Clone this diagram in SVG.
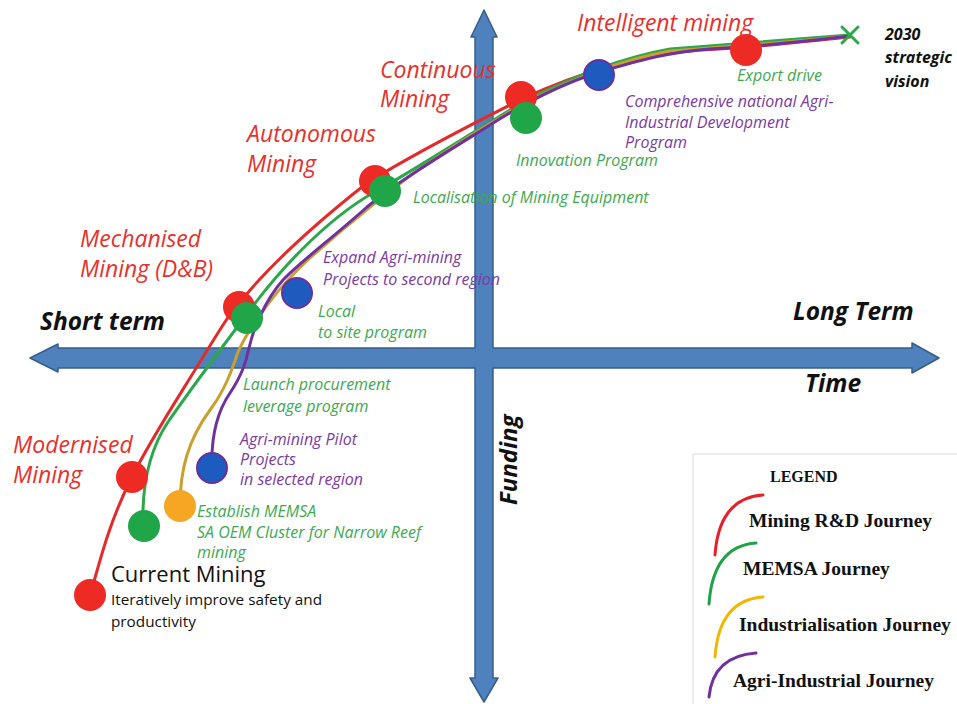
<svg xmlns="http://www.w3.org/2000/svg" width="957" height="704" viewBox="0 0 957 704">
  <style>
    .stage { font-family: "Open Sans", "Liberation Sans", sans-serif; font-style: italic; fill: #e8312b; font-size: 23px; }
    .axis-label { font-family: "Open Sans", "Liberation Sans", sans-serif; font-style: italic; font-weight: bold; fill: #111; font-size: 24.5px; }
    .vision { font-family: "Open Sans", "Liberation Sans", sans-serif; font-style: italic; font-weight: bold; fill: #111; font-size: 16px; }
    .green-note { font-family: "Open Sans", "Liberation Sans", sans-serif; font-style: italic; fill: #3daa4f; font-size: 16px; }
    .purple-note { font-family: "Open Sans", "Liberation Sans", sans-serif; font-style: italic; fill: #7a3aa8; font-size: 16px; }
    .plain { font-family: "Open Sans", "Liberation Sans", sans-serif; fill: #111; }
    .plain-big { font-size: 22px; }
    .plain-small { font-size: 15.3px; }
    .legend-text { font-family: "Liberation Serif", "DejaVu Serif", serif; font-weight: bold; fill: #111; font-size: 19.5px; }
    .legend-title { font-size: 16px; }
    .journey { fill: none; stroke-width: 3; stroke-linejoin: round; stroke-linecap: round; }
    .red-line { stroke: #e42b2b; }
    .green-line { stroke: #2aa84a; }
    .gold-line { stroke: #c9a030; }
    .purple-line { stroke: #7030a0; }
    .dot-red { fill: #ee2a24; }
    .dot-green { fill: #21a549; }
    .dot-orange { fill: #f5a623; }
    .dot-blue { fill: #1e5bbf; stroke: #6a2fa0; stroke-width: 2; }
  </style>

  <!-- Time / funding axes drawn as one cross-shaped arrow -->
  <g id="axes">
    <path d="M484,10 L497,37 L493,37 L493,348 L912,348 L912,343 L939,358 L912,373 L912,368 L493,368 L493,678 L498,678 L484,702 L470,678 L475,678 L475,368 L58,368 L58,372 L30,358 L58,344 L58,348 L475,348 L475,37 L471,37 Z" fill="#4f81bd" stroke="#385d8a" stroke-width="1.5" stroke-linejoin="round"/>
  </g>

  <!-- Journey curves -->
  <g id="connectors">
    <path class="journey red-line" d="M90,596 C100,560 110,520 132,477 C150,440 180,395 206,352 C220,330 230,312 240,302 C270,265 320,220 367,183 C420,150 480,120 522,99 C580,72 640,55 700,50 C760,47 800,42 850,37"/>
    <path class="journey green-line" d="M143,525 C142,490 148,452 168,422 C190,390 220,350 247,314 C285,262 335,212 382,188 C430,160 480,128 523,102 C570,78 620,58 670,49 C740,44 800,39 850,35"/>
    <path class="journey gold-line" d="M180,506 C180,470 188,440 210,410 C225,390 232,370 238,352 C250,325 280,285 310,258 C350,222 400,182 430,162 C470,135 500,118 523,104 C570,80 620,60 670,51 C740,46 800,41 850,36"/>
    <path class="journey purple-line" d="M212,468 C211,440 215,415 230,393 C242,375 246,362 249,348 C253,330 265,300 283,280 C300,262 330,240 367,207 C400,180 450,150 490,125 C520,106 560,84 600,72 C640,60 670,52 710,49 C760,46 800,42 850,36"/>
  </g>

  <!-- Milestones -->
  <g id="current-mining">
    <circle class="dot-red" cx="90" cy="595" r="16"/>
    <text class="plain plain-big" x="111" y="582">Current Mining</text>
    <text class="plain plain-small" x="111" y="605">Iteratively improve safety and</text>
    <text class="plain plain-small" x="111" y="627">productivity</text>
  </g>
  <g id="modernised-mining">
    <circle class="dot-red" cx="132" cy="477" r="16"/>
    <text class="stage" x="13" y="453">Modernised</text>
    <text class="stage" x="13" y="483">Mining</text>
  </g>
  <g id="establish-memsa">
    <circle class="dot-green" cx="144" cy="526" r="16"/>
    <circle class="dot-orange" cx="180" cy="506" r="16"/>
    <text class="green-note" x="197" y="517">Establish MEMSA</text>
    <text class="green-note" x="197" y="538">SA OEM Cluster for Narrow Reef</text>
    <text class="green-note" x="197" y="558">mining</text>
  </g>
  <g id="agri-pilot">
    <circle class="dot-blue" cx="212" cy="468" r="15"/>
    <text class="purple-note" x="240" y="445">Agri-mining Pilot</text>
    <text class="purple-note" x="240" y="465">Projects</text>
    <text class="purple-note" x="240" y="485">in selected region</text>
  </g>
  <g id="procurement">
    <text class="green-note" x="243" y="390">Launch procurement</text>
    <text class="green-note" x="243" y="412">leverage program</text>
  </g>
  <g id="mechanised-mining">
    <circle class="dot-red" cx="239" cy="307" r="16"/>
    <circle class="dot-green" cx="247" cy="318" r="16"/>
    <text class="stage" x="80" y="247">Mechanised</text>
    <text class="stage" x="80" y="277">Mining (D&amp;B)</text>
    <text class="green-note" x="318" y="317">Local</text>
    <text class="green-note" x="318" y="338">to site program</text>
  </g>
  <g id="expand-agri">
    <circle class="dot-blue" cx="297" cy="293" r="15"/>
    <text class="purple-note" x="323" y="263">Expand Agri-mining</text>
    <text class="purple-note" x="323" y="285">Projects to second region</text>
  </g>
  <g id="autonomous-mining">
    <circle class="dot-red" cx="375" cy="181" r="16"/>
    <circle class="dot-green" cx="385" cy="191" r="16"/>
    <text class="stage" x="247" y="142">Autonomous</text>
    <text class="stage" x="247" y="172">Mining</text>
    <text class="green-note" x="413" y="203">Localisation of Mining Equipment</text>
  </g>
  <g id="continuous-mining">
    <circle class="dot-red" cx="521" cy="97" r="16"/>
    <circle class="dot-green" cx="526" cy="118" r="16"/>
    <text class="stage" x="380" y="78">Continuous</text>
    <text class="stage" x="380" y="107">Mining</text>
    <text class="green-note" x="516" y="166">Innovation Program</text>
  </g>
  <g id="agri-industrial-program">
    <circle class="dot-blue" cx="599" cy="75" r="15"/>
    <text class="purple-note" x="625" y="107">Comprehensive national Agri-</text>
    <text class="purple-note" x="625" y="128">Industrial Development</text>
    <text class="purple-note" x="625" y="148">Program</text>
  </g>
  <g id="intelligent-mining">
    <circle class="dot-red" cx="746" cy="50" r="16"/>
    <text class="stage" x="577" y="31">Intelligent mining</text>
    <text class="green-note" x="737" y="81">Export drive</text>
  </g>
  <g id="vision-2030">
    <path d="M842,27 L858,43 M858,27 L842,43" stroke="#2aa84a" stroke-width="3" stroke-linecap="round" fill="none"/>
    <text class="vision" x="885" y="40">2030</text>
    <text class="vision" x="885" y="63">strategic</text>
    <text class="vision" x="885" y="87">vision</text>
  </g>

  <!-- Axis captions -->
  <g id="axis-captions">
    <text class="axis-label" x="40" y="330">Short term</text>
    <text class="axis-label" x="793" y="320">Long Term</text>
    <text class="axis-label" x="805" y="392">Time</text>
    <text class="axis-label" transform="translate(517,505) rotate(-90)" style="font-size:24px">Funding</text>
  </g>

  <!-- Legend -->
  <g id="legend">
    <rect x="693" y="454" width="270" height="260" fill="#ffffff" stroke="#dadada" stroke-width="1"/>
    <text class="legend-text legend-title" x="770" y="482">LEGEND</text>
    <path class="journey" d="M715,555 Q719,498 763,495" stroke="#e8202a"/>
    <text class="legend-text" x="749" y="527">Mining R&amp;D Journey</text>
    <path class="journey" d="M709,604 Q713,546 756,543" stroke="#1fa34a"/>
    <text class="legend-text" x="743" y="575">MEMSA Journey</text>
    <path class="journey" d="M715,657 Q719,600 763,597" stroke="#f2b705"/>
    <text class="legend-text" x="739" y="631">Industrialisation Journey</text>
    <path class="journey" d="M709,697 Q713,656 756,653" stroke="#7030a0"/>
    <text class="legend-text" x="733" y="687">Agri-Industrial Journey</text>
  </g>
</svg>
